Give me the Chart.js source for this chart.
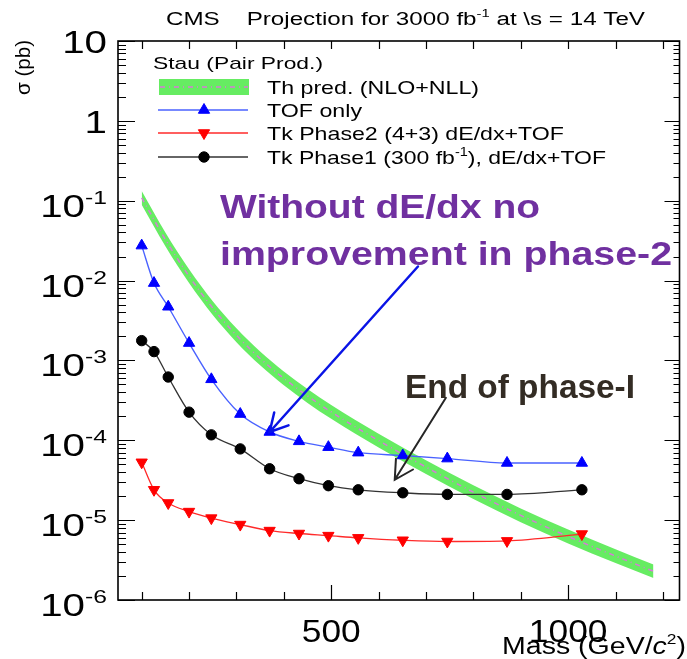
<!DOCTYPE html>
<html>
<head>
<meta charset="utf-8">
<script src="https://cdn.jsdelivr.net/npm/chart.js@4.4.1/dist/chart.umd.min.js"></script>
<style>
  html, body { margin: 0; padding: 0; background: #fff; }
  canvas { display: block; }
</style>
</head>
<body>
<canvas id="chartCanvas" width="687" height="659"></canvas>
<script>
// stau signal mass points (GeV)
const massPoints = [100, 126, 156, 200, 247, 308, 370, 432, 494, 557, 651, 745, 871, 1029];

// expected cross-section limits (pb)
const tofOnly  = [2.74e-2, 9.3e-3, 4.7e-3, 1.65e-3, 5.8e-4, 2.13e-4, 1.27e-4, 9.7e-5, 8.2e-5, 7.0e-5, 6.45e-5, 5.9e-5, 5.2e-5, 5.2e-5];
const tkPhase2 = [5.3e-5, 2.4e-5, 1.64e-5, 1.28e-5, 1.06e-5, 8.8e-6, 7.4e-6, 6.8e-6, 6.4e-6, 6.0e-6, 5.6e-6, 5.4e-6, 5.5e-6, 6.7e-6];
const tkPhase1 = [1.77e-3, 1.29e-3, 6.2e-4, 2.25e-4, 1.17e-4, 7.8e-5, 4.4e-5, 3.3e-5, 2.7e-5, 2.4e-5, 2.2e-5, 2.1e-5, 2.1e-5, 2.4e-5];

// NLO+NLL pair production cross-section with its uncertainty band
const thMass    = [100, 150, 200, 250, 300, 350, 400, 450, 500, 600, 700, 800, 900, 1000, 1100, 1180];
const thCentral = [0.1084, 0.03273, 0.01135, 4.52e-3, 2.065e-3, 1.059e-3, 5.96e-4, 3.59e-4, 2.265e-4, 9.89e-5, 4.62e-5, 2.24e-5, 1.148e-5, 6.24e-6, 3.55e-6, 2.29e-6];
const thUp      = [0.1322, 0.03993, 0.01385, 5.51e-3, 2.52e-3, 1.292e-3, 7.27e-4, 4.38e-4, 2.763e-4, 1.207e-4, 5.64e-5, 2.73e-5, 1.40e-5, 7.61e-6, 4.33e-6, 2.79e-6];
const thDown    = [0.0889, 0.02683, 9.30e-3, 3.70e-3, 1.693e-3, 8.68e-4, 4.89e-4, 2.94e-4, 1.857e-4, 8.11e-5, 3.79e-5, 1.84e-5, 9.41e-6, 5.11e-6, 2.91e-6, 1.88e-6];

// axis labels
const yTickExp = [1, 0, -1, -2, -3, -4, -5, -6];
const xTickLabels = [500, 1000];

const legendTitle = 'Stau (Pair Prod.)';
const legendLabels = [
  [{ t: 'Th pred. (NLO+NLL)' }],
  [{ t: 'TOF only' }],
  [{ t: 'Tk Phase2 (4+3) dE/dx+TOF' }],
  [{ t: 'Tk Phase1 (300 fb' }, { t: '-1', sup: true }, { t: '), dE/dx+TOF' }]
];

const GREEN = '#66ec62';
const FONT = '"Liberation Sans", Arial, Helvetica, sans-serif';

const pts = (xs, ys) => xs.map((x, i) => ({ x, y: ys[i] }));

// text made of plain / superscript / italic pieces, optionally squeezed to a width
function richText(ctx, segs, x, y, size, o = {}) {
  const fontFor = s => `${s.it ? 'italic ' : ''}${o.bold ? 'bold ' : ''}${s.sup ? Math.round(size * 0.62) : size}px ${FONT}`;
  let w = 0;
  segs.forEach(s => { ctx.font = fontFor(s); w += ctx.measureText(s.t).width; });
  const sx = o.width ? o.width / w : (o.sx || 1);
  ctx.save();
  ctx.translate(x, y);
  if (o.rotate) ctx.rotate(o.rotate);
  ctx.scale(sx, 1);
  let cx = o.align === 'right' ? -w : o.align === 'center' ? -w / 2 : 0;
  ctx.fillStyle = o.color || '#000';
  ctx.textAlign = 'left';
  ctx.textBaseline = 'alphabetic';
  segs.forEach(s => {
    ctx.font = fontFor(s);
    ctx.fillText(s.t, cx, s.sup ? -size * 0.42 : 0);
    cx += ctx.measureText(s.t).width;
  });
  ctx.restore();
}

function arrow(ctx, x0, y0, x1, y1, color, lw, head) {
  const ang = Math.atan2(y1 - y0, x1 - x0);
  ctx.save();
  ctx.strokeStyle = color;
  ctx.lineWidth = lw;
  ctx.lineCap = 'round';
  ctx.beginPath();
  ctx.moveTo(x0, y0);
  ctx.lineTo(x1, y1);
  ctx.moveTo(x1 - head * Math.cos(ang - 0.5), y1 - head * Math.sin(ang - 0.5));
  ctx.lineTo(x1, y1);
  ctx.lineTo(x1 - head * Math.cos(ang + 0.5), y1 - head * Math.sin(ang + 0.5));
  ctx.stroke();
  ctx.restore();
}

// arrows in data coordinates (mass, sigma)
const arrowNotes = [
  { from: [683, 1.5e-2], to: [370, 1.27e-4], color: '#0a14e6', width: 2.5, head: 20 },
  { from: [742, 3.4e-4], to: [634, 3.2e-5], color: '#262626', width: 2, head: 21 }
];

const rootFrame = {
  id: 'rootFrame',
  afterDatasetsDraw(chart) {
    const { ctx, chartArea: a, scales: { x, y } } = chart;
    ctx.save();
    ctx.strokeStyle = '#000';
    ctx.lineWidth = 1.6;
    ctx.strokeRect(a.left, a.top, a.right - a.left, a.bottom - a.top);

    // ROOT style ticks pointing inwards on all four sides
    ctx.lineWidth = 1.2;
    ctx.beginPath();
    for (let k = -6; k <= 1; k++) {
      for (let m = 1; m <= 9; m++) {
        const v = m * Math.pow(10, k);
        if (v > 10.0001) break;
        const py = Math.round(y.getPixelForValue(v)) + 0.5;
        const major = m === 1;
        ctx.moveTo(a.left, py); ctx.lineTo(a.left + (major ? 17 : 8), py);
        ctx.moveTo(a.right, py); ctx.lineTo(a.right - (major ? 15 : 6), py);
      }
    }
    for (let v = 100; v <= 1200; v += 100) {
      const px = Math.round(x.getPixelForValue(v)) + 0.5;
      const len = v % 500 === 0 ? 15 : 8;
      ctx.moveTo(px, a.bottom); ctx.lineTo(px, a.bottom - len);
      ctx.moveTo(px, a.top); ctx.lineTo(px, a.top + 8);
    }
    ctx.stroke();
    ctx.restore();

    // tick labels
    yTickExp.forEach(k => {
      const py = y.getPixelForValue(Math.pow(10, k));
      if (k === 1) richText(ctx, [{ t: '10' }], 107, py + 12, 31, { align: 'right', sx: 1.3 });
      else if (k === 0) richText(ctx, [{ t: '1' }], 107, py + 12, 31, { align: 'right', sx: 1.3 });
      else richText(ctx, [{ t: '10' }, { t: String(k), sup: true }], 107, py + 16, 31, { align: 'right', sx: 1.3 });
    });
    xTickLabels.forEach(v => {
      richText(ctx, [{ t: String(v) }], x.getPixelForValue(v), 642, 31, { align: 'center', sx: 1.14 });
    });

    // axis titles
    richText(ctx, [{ t: 'Mass (GeV/' }, { t: 'c', it: true }, { t: '2', sup: true }, { t: ')' }], 686, 654, 23, { align: 'right', width: 184 });
    richText(ctx, [{ t: '\u03c3 (pb)' }], 30, 95, 21, { rotate: -Math.PI / 2, width: 55 });

    // annotations
    arrowNotes.forEach(n => {
      arrow(ctx, x.getPixelForValue(n.from[0]), y.getPixelForValue(n.from[1]),
        x.getPixelForValue(n.to[0]), y.getPixelForValue(n.to[1]), n.color, n.width, n.head);
    });
    richText(ctx, [{ t: 'Without dE/dx no' }], 220, 218, 33, { bold: true, color: '#7030a0', width: 320 });
    richText(ctx, [{ t: 'improvement in phase-2' }], 220, 265, 33, { bold: true, color: '#7030a0', width: 452 });
    richText(ctx, [{ t: 'End of phase-I' }], 405, 398, 33, { bold: true, color: '#332c24', width: 230 });
  },
  afterDraw(chart) {
    const { ctx } = chart;
    // title
    richText(ctx, [{ t: 'CMS    Projection for 3000 fb' }, { t: '-1', sup: true }, { t: ' at \\s = 14 TeV' }], 166, 25, 18, { width: 479 });

    // legend
    richText(ctx, [{ t: legendTitle }], 153, 69, 17, { width: 170 });
    const rows = [87, 110, 133, 157];
    const textW = [212, 95, 297, 339];
    const ds = chart.data.datasets;
    rows.forEach((ry, i) => {
      ctx.save();
      if (i === 0) {
        ctx.fillStyle = GREEN;
        ctx.fillRect(159, ry - 8, 90, 16);
        ctx.strokeStyle = ds[2].borderColor;
        ctx.lineWidth = 1.5;
        ctx.setLineDash(ds[2].borderDash);
        ctx.beginPath(); ctx.moveTo(160, ry); ctx.lineTo(248, ry); ctx.stroke();
      } else {
        const d = ds[2 + i];
        ctx.strokeStyle = d.borderColor;
        ctx.lineWidth = d.borderWidth;
        ctx.beginPath(); ctx.moveTo(158, ry); ctx.lineTo(248, ry); ctx.stroke();
        ctx.fillStyle = d.pointBackgroundColor;
        ctx.strokeStyle = d.pointBorderColor;
        ctx.lineWidth = 1;
        Chart.helpers.drawPoint(ctx, {
          pointStyle: d.pointStyle, rotation: d.pointRotation || 0,
          radius: d.pointRadius, borderWidth: 1
        }, 204, ry);
      }
      ctx.restore();
      richText(ctx, legendLabels[i], 267, ry + 7, 19, { width: textW[i] });
    });
  }
};

const ctx = document.getElementById('chartCanvas').getContext('2d');

new Chart(ctx, {
  type: 'line',
  data: {
    datasets: [
      {
        label: 'th up', data: pts(thMass, thUp),
        borderColor: GREEN, borderWidth: 0, pointRadius: 0, fill: false,
        cubicInterpolationMode: 'monotone', order: 5
      },
      {
        label: 'th down', data: pts(thMass, thDown),
        borderColor: GREEN, borderWidth: 0, pointRadius: 0, fill: '-1', backgroundColor: GREEN,
        cubicInterpolationMode: 'monotone', order: 5
      },
      {
        label: 'Th pred. (NLO+NLL)', data: pts(thMass, thCentral),
        borderColor: '#d77ad8', borderWidth: 1.5, borderDash: [5, 4, 1, 4], pointRadius: 0, fill: false,
        cubicInterpolationMode: 'monotone', order: 4
      },
      {
        label: 'TOF only', data: pts(massPoints, tofOnly),
        borderColor: '#4a62ff', borderWidth: 1.4, fill: false,
        pointStyle: 'triangle', pointRadius: 6.5,
        pointBackgroundColor: '#0000ff', pointBorderColor: '#0000ff', pointBorderWidth: 1,
        cubicInterpolationMode: 'monotone', order: 1
      },
      {
        label: 'Tk Phase2 (4+3) dE/dx+TOF', data: pts(massPoints, tkPhase2),
        borderColor: '#ff2a2a', borderWidth: 1.3, fill: false,
        pointStyle: 'triangle', pointRotation: 180, pointRadius: 6.5,
        pointBackgroundColor: '#ff0000', pointBorderColor: '#ff0000', pointBorderWidth: 1,
        cubicInterpolationMode: 'monotone', order: 1
      },
      {
        label: 'Tk Phase1 (300 fb-1), dE/dx+TOF', data: pts(massPoints, tkPhase1),
        borderColor: '#333333', borderWidth: 1.3, fill: false,
        pointStyle: 'circle', pointRadius: 5.2,
        pointBackgroundColor: '#000000', pointBorderColor: '#000000', pointBorderWidth: 1,
        cubicInterpolationMode: 'monotone', order: 1
      }
    ]
  },
  options: {
    responsive: false,
    animation: false,
    events: [],
    layout: { padding: { left: 118, right: 2, top: 41, bottom: 59 } },
    scales: {
      x: { type: 'linear', min: 50, max: 1235, display: false },
      y: { type: 'logarithmic', min: 1e-6, max: 10, display: false }
    },
    plugins: {
      legend: { display: false },
      tooltip: { enabled: false }
    }
  },
  plugins: [rootFrame]
});
</script>
</body>
</html>
